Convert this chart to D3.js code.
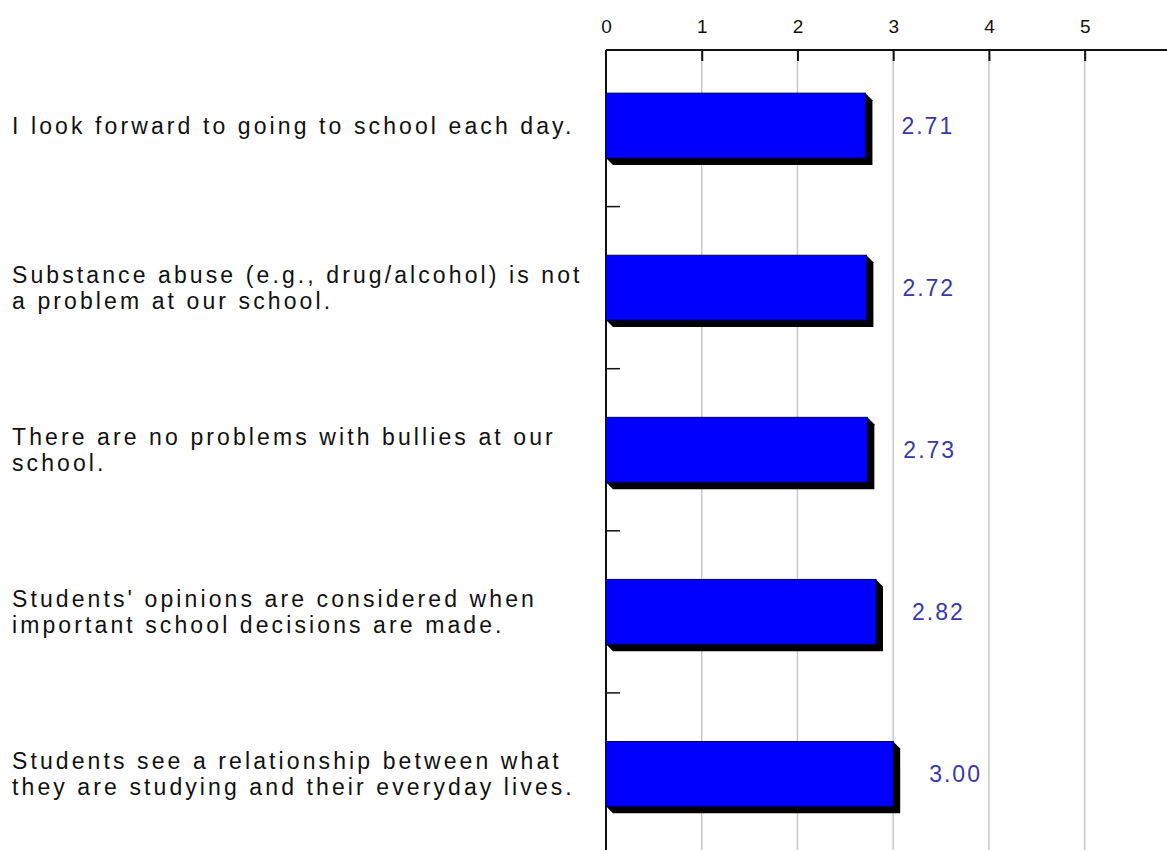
<!DOCTYPE html>
<html>
<head>
<meta charset="utf-8">
<script src="https://cdn.jsdelivr.net/npm/d3@7"></script>
<style>
body { margin: 0; background: #fff; }
text { font-family: "Liberation Sans", Arial, sans-serif; }
</style>
</head>
<body>
<script>
const width = 1167;
const height = 850;

// data
const questions = [
    ["I look forward to going to school each day."],
    ["Substance abuse (e.g., drug/alcohol) is not", "a problem at our school."],
    ["There are no problems with bullies at our", "school."],
    ["Students' opinions are considered when", "important school decisions are made."],
    ["Students see a relationship between what", "they are studying and their everyday lives."]
];
const means = [2.71, 2.72, 2.73, 2.82, 3.00];
const tickValues = [0, 1, 2, 3, 4, 5];

const axisLeft = 606;
const axisTop = 50;
const depth = 7;

let x = d3.scaleLinear()
    .domain([0, 5.86])
    .range([axisLeft, width]);

let y = d3.scaleBand()
    .domain(d3.range(questions.length))
    .range([44.5, 855])
    .paddingInner(0.6)
    .paddingOuter(0.3);

let svg = d3.select("body").append("svg")
    .attr("width", width)
    .attr("height", height);

// grid lines
svg.selectAll(".grid")
    .data(tickValues.filter(function(d){ return d > 0; }))
    .enter().append("line")
    .attr("x1", function(d){ return x(d); })
    .attr("x2", function(d){ return x(d); })
    .attr("y1", axisTop)
    .attr("y2", height)
    .attr("stroke", "#c8c8c8")
    .attr("stroke-width", 1.5);

// top axis
let xAxis = svg.append("g")
    .attr("transform", "translate(0," + axisTop + ")")
    .call(d3.axisTop(x).tickValues(tickValues).tickFormat(d3.format("d")).tickSize(0).tickPadding(17));
xAxis.select(".domain")
    .attr("stroke", "#111")
    .attr("stroke-width", 2)
    .attr("d", "M" + axisLeft + ",0H" + width);
xAxis.selectAll("text")
    .attr("font-size", 19)
    .attr("font-family", "'DejaVu Sans', sans-serif")
    .attr("fill", "#111");
xAxis.selectAll(".tick")
    .filter(function(d){ return d > 0; })
    .append("line")
    .attr("y1", 0)
    .attr("y2", 11)
    .attr("stroke", "#111")
    .attr("stroke-width", 2);

// left axis line and category separators
svg.append("line")
    .attr("x1", axisLeft).attr("x2", axisLeft)
    .attr("y1", axisTop).attr("y2", height)
    .attr("stroke", "#111")
    .attr("stroke-width", 2);

let step = y.step();
svg.selectAll(".sep")
    .data(d3.range(1, questions.length))
    .enter().append("line")
    .attr("x1", axisLeft)
    .attr("x2", axisLeft + 14)
    .attr("y1", function(d){ return y(d) - step * y.paddingInner() / 2; })
    .attr("y2", function(d){ return y(d) - step * y.paddingInner() / 2; })
    .attr("stroke", "#111")
    .attr("stroke-width", 1.5);

// bars with a black extruded shadow
let bars = svg.selectAll(".bar")
    .data(means)
    .enter().append("g");

bars.append("polygon")
    .attr("points", function(d, i){
        let x0 = x(0), x1 = x(d), y0 = y(i), y1 = y(i) + y.bandwidth();
        return [[x1, y0], [x1 + depth, y0 + depth], [x1 + depth, y1 + depth],
            [x0 + depth, y1 + depth], [x0, y1]].join(" ");
    })
    .attr("fill", "#000");

bars.append("rect")
    .attr("x", x(0))
    .attr("y", function(d, i){ return y(i); })
    .attr("width", function(d){ return x(d) - x(0); })
    .attr("height", y.bandwidth())
    .attr("fill", "#0000ff")
    .attr("stroke", "#000066")
    .attr("stroke-width", 1);

bars.append("text")
    .attr("x", function(d){ return x(d) + 36; })
    .attr("y", function(d, i){ return y(i) + y.bandwidth() / 2; })
    .attr("dy", "0.36em")
    .attr("font-size", 23)
    .attr("letter-spacing", 2)
    .attr("fill", "#3838a8")
    .text(function(d){ return d.toFixed(2); });

// question labels
let labels = svg.selectAll(".label")
    .data(questions)
    .enter().append("text")
    .attr("font-size", 23)
    .attr("letter-spacing", 3.1)
    .attr("fill", "#111")
    .attr("y", function(d, i){ return y(i) + y.bandwidth() / 2; });

labels.selectAll("tspan")
    .data(function(d){ return d; })
    .enter().append("tspan")
    .attr("x", 12)
    .attr("dy", function(d, j, nodes){
        let n = nodes.length;
        return j === 0 ? (0.36 - (n - 1) * 0.56) + "em" : "1.12em";
    })
    .text(function(d){ return d; });
</script>
</body>
</html>
